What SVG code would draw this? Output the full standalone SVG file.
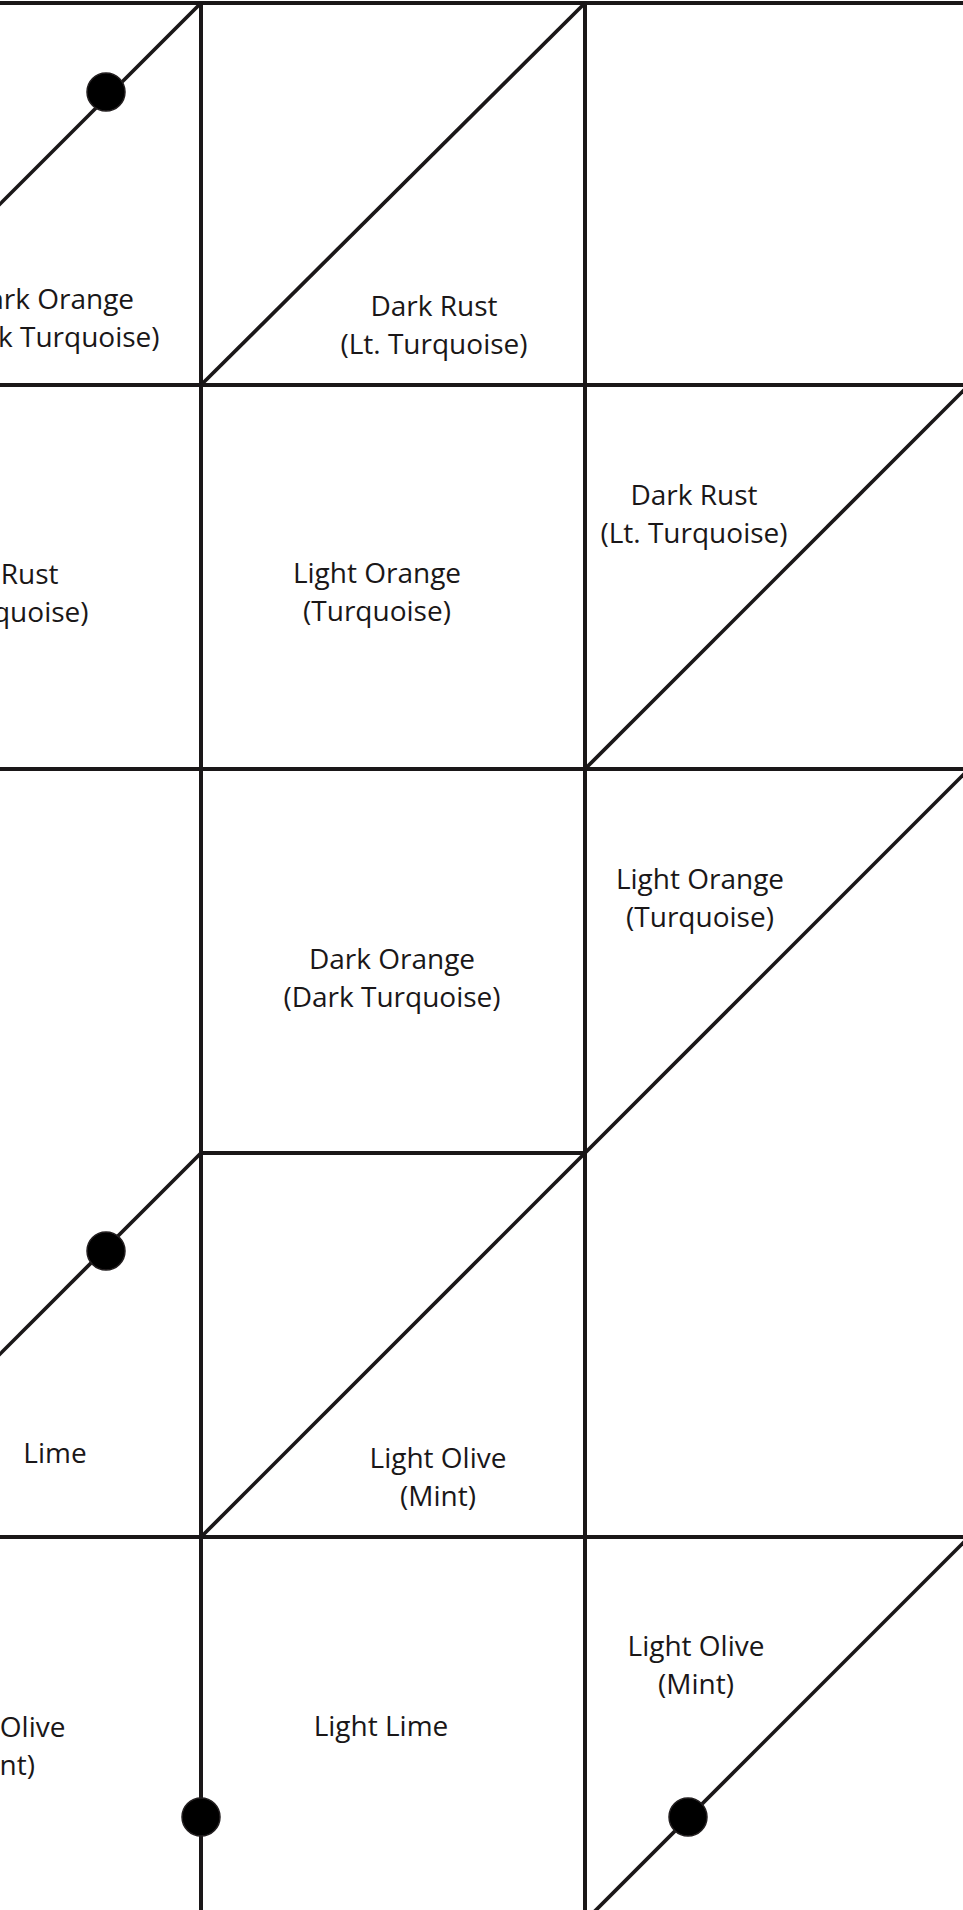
<svg xmlns="http://www.w3.org/2000/svg" width="963" height="1910" viewBox="0 0 963 1910">
  <style>
    .ln { stroke: #1a1718; stroke-width: 4; fill: none; stroke-linecap: butt; }
    .dg { stroke: #1a1718; stroke-width: 3.7; fill: none; }
    .dot { fill: #000000; stroke: #231f20; stroke-width: 1.5; }
    .lbl { font-family: "Open Sans", "Noto Sans", "Liberation Sans", sans-serif; font-size: 28px; fill: #1a1718; text-anchor: middle; }
  </style>
  <rect x="0" y="0" width="963" height="1910" fill="#ffffff"/>
  <g id="connectors">
    <line class="ln" x1="0" y1="3" x2="963" y2="3"/>
    <line class="ln" x1="0" y1="385" x2="963" y2="385"/>
    <line class="ln" x1="0" y1="769" x2="963" y2="769"/>
    <line class="ln" x1="201" y1="1153" x2="585" y2="1153"/>
    <line class="ln" x1="0" y1="1537" x2="963" y2="1537"/>
    <line class="ln" x1="201" y1="3" x2="201" y2="1910"/>
    <line class="ln" x1="585" y1="3" x2="585" y2="1910"/>
    <line class="dg" x1="201" y1="3" x2="-183" y2="387"/>
    <line class="dg" x1="201" y1="385" x2="585" y2="3"/>
    <line class="dg" x1="585" y1="769" x2="969" y2="385"/>
    <line class="dg" x1="585" y1="1153" x2="969" y2="769"/>
    <line class="dg" x1="201" y1="1153" x2="-183" y2="1537"/>
    <line class="dg" x1="201" y1="1537" x2="585" y2="1153"/>
    <line class="dg" x1="585" y1="1921" x2="969" y2="1537"/>
  </g>
  <g id="dots">
    <circle class="dot" cx="106" cy="92" r="19"/>
    <circle class="dot" cx="106" cy="1251" r="19"/>
    <circle class="dot" cx="201" cy="1817" r="19"/>
    <circle class="dot" cx="688" cy="1817" r="19"/>
  </g>
  <g id="cell-r1-left">
    <text class="lbl" x="51" y="309">Dark Orange</text>
    <text class="lbl" x="51" y="347">(Dark Turquoise)</text>
  </g>
  <g id="cell-r1-mid">
    <text class="lbl" x="434" y="316">Dark Rust</text>
    <text class="lbl" x="434" y="354">(Lt. Turquoise)</text>
  </g>
  <g id="cell-r2-left">
    <text class="lbl" x="-5" y="584">Dark Rust</text>
    <text class="lbl" x="-5" y="622">(Lt. Turquoise)</text>
  </g>
  <g id="cell-r2-mid">
    <text class="lbl" x="377" y="583">Light Orange</text>
    <text class="lbl" x="377" y="621">(Turquoise)</text>
  </g>
  <g id="cell-r2-right">
    <text class="lbl" x="694" y="505">Dark Rust</text>
    <text class="lbl" x="694" y="543">(Lt. Turquoise)</text>
  </g>
  <g id="cell-r3-mid">
    <text class="lbl" x="392" y="969">Dark Orange</text>
    <text class="lbl" x="392" y="1007">(Dark Turquoise)</text>
  </g>
  <g id="cell-r3-right">
    <text class="lbl" x="700" y="889">Light Orange</text>
    <text class="lbl" x="700" y="927">(Turquoise)</text>
  </g>
  <g id="cell-r4-left">
    <text class="lbl" x="55" y="1463">Lime</text>
  </g>
  <g id="cell-r4-mid">
    <text class="lbl" x="438" y="1468">Light Olive</text>
    <text class="lbl" x="438" y="1506">(Mint)</text>
  </g>
  <g id="cell-r5-left">
    <text class="lbl" x="-3" y="1737">Light Olive</text>
    <text class="lbl" x="-3" y="1775">(Mint)</text>
  </g>
  <g id="cell-r5-mid">
    <text class="lbl" x="381" y="1736">Light Lime</text>
  </g>
  <g id="cell-r5-right">
    <text class="lbl" x="696" y="1656">Light Olive</text>
    <text class="lbl" x="696" y="1694">(Mint)</text>
  </g>
</svg>
